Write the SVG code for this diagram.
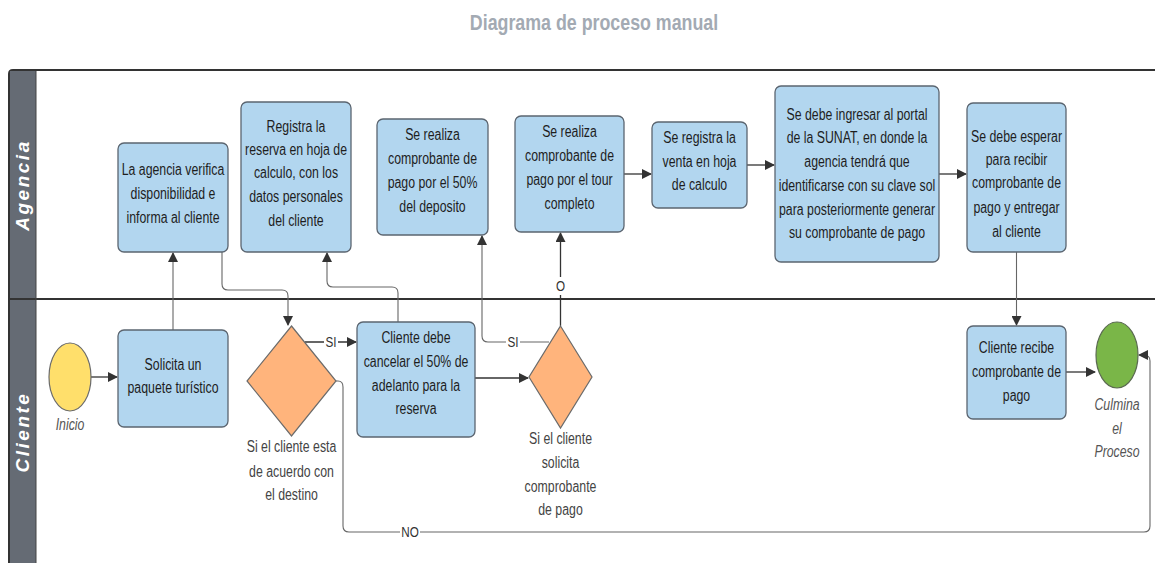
<svg xmlns="http://www.w3.org/2000/svg" width="1155" height="563" viewBox="0 0 1155 563">
<style>
.box{fill:#b2d6ef;stroke:#5b6570;stroke-width:1.3}
.dia{fill:#ffb47c;stroke:#6b6b6b;stroke-width:1.2}
.t{font-family:"Liberation Sans",sans-serif;font-size:16px;fill:#1e1e1e;text-anchor:middle}
.lbl{font-family:"Liberation Sans",sans-serif;font-size:16px;fill:#444;text-anchor:middle}
.it{font-family:"Liberation Sans",sans-serif;font-size:16px;fill:#555;font-style:italic;text-anchor:middle}
.ln{fill:none;stroke:#333;stroke-width:1.3}
.lg{fill:none;stroke:#666;stroke-width:1.1}
.lane{font-family:"Liberation Sans",sans-serif;font-size:19px;font-weight:bold;font-style:italic;fill:#fff;text-anchor:middle;letter-spacing:2.5px}
.cl{font-family:"Liberation Sans",sans-serif;font-size:15px;fill:#333;text-anchor:middle}
</style>
<defs>
<marker id="ar" viewBox="0 0 10 10" refX="9" refY="5" markerWidth="10" markerHeight="10" markerUnits="userSpaceOnUse" orient="auto"><path d="M0,0 L10,5 L0,10 z" fill="#333"/></marker>
</defs>
<rect width="1155" height="563" fill="#fff"/>
<text transform="translate(594,0) scale(0.81,1)" x="0" y="30" font-family="'Liberation Sans',sans-serif" font-size="22" font-weight="bold" fill="#a3aab3" text-anchor="middle">Diagrama de proceso manual</text>
<g id="pool">
<path d="M9,573 V74 q0,-4 4,-4 H1160" fill="none" stroke="#333" stroke-width="2"/>
<rect x="10" y="71" width="26" height="500" fill="#656b74"/>
<line x1="9" y1="299" x2="1160" y2="299" stroke="#333" stroke-width="2.2"/>
<line x1="36" y1="71" x2="36" y2="570" stroke="#444" stroke-width="1"/>
<text class="lane" transform="translate(29,185) rotate(-90)">Agencia</text>
<text class="lane" transform="translate(29,432) rotate(-90)">Cliente</text>
</g>
<g id="connectors">
<path class="ln" d="M91,377 H117" marker-end="url(#ar)"/>
<path class="lg" d="M173,330 V253" marker-end="url(#ar)"/>
<path class="lg" d="M222,252 V284 q0,6 6,6 H282 q6,0 6,6 V325" marker-end="url(#ar)"/>
<path class="ln" d="M305,342 H356" marker-end="url(#ar)"/>
<path class="lg" d="M336,381 H338 q5,0 5,6 V526 q0,6 6,6 H1144 q6,0 6,-6 V361 q0,-6 -6,-6 H1139" marker-end="url(#ar)"/>
<path class="lg" d="M398,322 V293 q0,-6 -6,-6 H333 q-6,0 -6,-6 V253" marker-end="url(#ar)"/>
<path class="ln" d="M475,378 H528" stroke-width="2" marker-end="url(#ar)"/>
<path class="lg" d="M549,342 H488 q-6,0 -6,-6 V236" marker-end="url(#ar)"/>
<path class="ln" d="M560.5,326 V233" marker-end="url(#ar)"/>
<path class="ln" d="M624,174 H651" marker-end="url(#ar)"/>
<path class="ln" d="M747,165 H774" marker-end="url(#ar)"/>
<path class="ln" d="M939,174 H966" marker-end="url(#ar)"/>
<path class="lg" d="M1016.5,252 V325" marker-end="url(#ar)"/>
<path class="ln" d="M1066,372 H1095" marker-end="url(#ar)"/>
<rect x="324" y="333" width="14" height="18" fill="#fff"/>
<text class="cl" transform="translate(331,0) scale(0.78,1)" x="0" y="347">SI</text>
<rect x="506" y="333" width="14" height="18" fill="#fff"/>
<text class="cl" transform="translate(513,0) scale(0.78,1)" x="0" y="347">SI</text>
<rect x="554" y="277" width="13" height="18" fill="#fff"/>
<text class="cl" transform="translate(560.5,0) scale(0.78,1)" x="0" y="291">O</text>
<rect x="400" y="523" width="20" height="18" fill="#fff"/>
<text class="cl" transform="translate(410,0) scale(0.78,1)" x="0" y="537">NO</text>
</g>
<g id="n1"><rect class="box" x="118" y="143" width="110" height="109" rx="6"/>
<text class="t" transform="translate(173,0) scale(0.77,1)"><tspan x="0" y="175">La agencia verifica</tspan><tspan x="0" y="199">disponibilidad e</tspan><tspan x="0" y="223">informa al cliente</tspan></text></g>
<g id="n2"><rect class="box" x="241" y="102" width="110" height="150" rx="6"/>
<text class="t" transform="translate(296,0) scale(0.77,1)"><tspan x="0" y="132">Registra la</tspan><tspan x="0" y="155">reserva en hoja de</tspan><tspan x="0" y="178">calculo, con los</tspan><tspan x="0" y="202">datos personales</tspan><tspan x="0" y="226">del cliente</tspan></text></g>
<g id="n3"><rect class="box" x="377" y="119" width="111" height="116" rx="6"/>
<text class="t" transform="translate(432.5,0) scale(0.77,1)"><tspan x="0" y="140">Se realiza</tspan><tspan x="0" y="164">comprobante de</tspan><tspan x="0" y="188">pago por el 50%</tspan><tspan x="0" y="212">del deposito</tspan></text></g>
<g id="n4"><rect class="box" x="515" y="116" width="109" height="116" rx="6"/>
<text class="t" transform="translate(569.5,0) scale(0.77,1)"><tspan x="0" y="137">Se realiza</tspan><tspan x="0" y="161">comprobante de</tspan><tspan x="0" y="185">pago por el tour</tspan><tspan x="0" y="209">completo</tspan></text></g>
<g id="n5"><rect class="box" x="652" y="122" width="95" height="86" rx="6"/>
<text class="t" transform="translate(699.5,0) scale(0.77,1)"><tspan x="0" y="143">Se registra la</tspan><tspan x="0" y="167">venta en hoja</tspan><tspan x="0" y="190">de calculo</tspan></text></g>
<g id="n6"><rect class="box" x="775" y="86" width="164" height="176" rx="6"/>
<text class="t" transform="translate(857,0) scale(0.77,1)"><tspan x="0" y="120">Se debe ingresar al portal</tspan><tspan x="0" y="143">de la SUNAT, en donde la</tspan><tspan x="0" y="167">agencia tendrá que</tspan><tspan x="0" y="191">identificarse con su clave sol</tspan><tspan x="0" y="215">para posteriormente generar</tspan><tspan x="0" y="238">su comprobante de pago</tspan></text></g>
<g id="n7"><rect class="box" x="967" y="103" width="99" height="149" rx="6"/>
<text class="t" transform="translate(1016.5,0) scale(0.77,1)"><tspan x="0" y="142">Se debe esperar</tspan><tspan x="0" y="165">para recibir</tspan><tspan x="0" y="188">comprobante de</tspan><tspan x="0" y="213">pago y entregar</tspan><tspan x="0" y="237">al cliente</tspan></text></g>
<g id="inicio"><ellipse cx="70" cy="377" rx="21" ry="34" fill="#ffdf6b" stroke="#6b6b6b" stroke-width="1.2"/>
<text class="it" transform="translate(70,0) scale(0.77,1)" x="0" y="430">Inicio</text></g>
<g id="n8"><rect class="box" x="118" y="330" width="110" height="97" rx="6"/>
<text class="t" transform="translate(173,0) scale(0.77,1)"><tspan x="0" y="370">Solicita un</tspan><tspan x="0" y="393">paquete turístico</tspan></text></g>
<g id="d1"><polygon class="dia" points="291.5,326 336,381 291.5,436 247,381"/>
<text class="lbl" transform="translate(291.5,0) scale(0.77,1)"><tspan x="0" y="452">Si el cliente esta</tspan><tspan x="0" y="477">de acuerdo con</tspan><tspan x="0" y="500">el destino</tspan></text></g>
<g id="n9"><rect class="box" x="357" y="322" width="118" height="115" rx="6"/>
<text class="t" transform="translate(416,0) scale(0.77,1)"><tspan x="0" y="343">Cliente debe</tspan><tspan x="0" y="367">cancelar el 50% de</tspan><tspan x="0" y="391">adelanto para la</tspan><tspan x="0" y="414">reserva</tspan></text></g>
<g id="d2"><polygon class="dia" points="560.5,326 592,377 560.5,428 529,377"/>
<text class="lbl" transform="translate(560.5,0) scale(0.77,1)"><tspan x="0" y="444">Si el cliente</tspan><tspan x="0" y="468">solicita</tspan><tspan x="0" y="492">comprobante</tspan><tspan x="0" y="515">de pago</tspan></text></g>
<g id="n10"><rect class="box" x="967" y="326" width="99" height="93" rx="6"/>
<text class="t" transform="translate(1016.5,0) scale(0.77,1)"><tspan x="0" y="353">Cliente recibe</tspan><tspan x="0" y="377">comprobante de</tspan><tspan x="0" y="401">pago</tspan></text></g>
<g id="fin"><ellipse cx="1117" cy="355" rx="21" ry="33" fill="#7ab648" stroke="#5a6a50" stroke-width="1.2"/>
<text class="it" transform="translate(1117,0) scale(0.77,1)"><tspan x="0" y="410">Culmina</tspan><tspan x="0" y="434">el</tspan><tspan x="0" y="457">Proceso</tspan></text></g>
</svg>
